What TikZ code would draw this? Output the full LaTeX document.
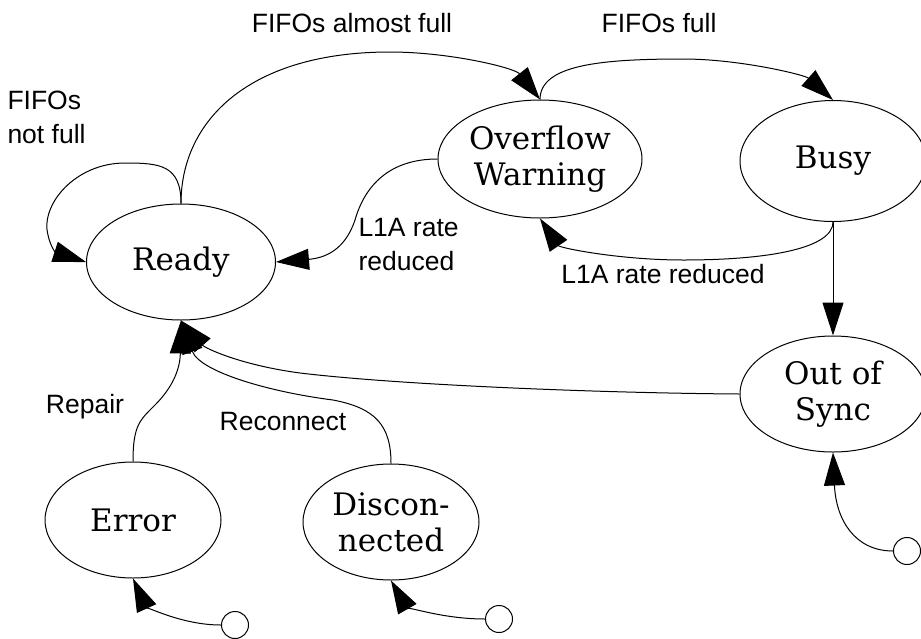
\documentclass[tikz,border=0pt]{standalone}
\usepackage{fontspec}
\usetikzlibrary{shapes.geometric, arrows.meta}
\newfontfamily\stfont{DejaVu Serif}
\newfontfamily\lblfont{Liberation Sans}

\begin{document}
\begin{tikzpicture}[x=1pt, y=-1pt, line width=1pt,
        state/.style={ellipse, draw, inner sep=0pt, minimum width=176pt, minimum height=116pt, align=center, font=\stfont\fontsize{31}{36}\selectfont},
        lbl/.style={inner sep=0pt, font=\lblfont\fontsize{26.5}{34}\selectfont},
        init/.style={circle, draw, inner sep=0pt, minimum size=27pt},
        arr/.style={-{Triangle[length=33pt, width=21pt]}}]
        \useasboundingbox (0,0) rectangle (921,638);

        \node[state, minimum width=189pt] (ready) at (181,262) {Ready};
        \node[state, minimum width=204pt, minimum height=118pt] (overflow) at (540,159) {Overflow\\Warning};
        \node[state, minimum width=186pt, minimum height=121pt] (busy) at (833,161) {Busy};
        \node[state, minimum width=186pt] (sync) at (833,394) {Out of\\Sync};
        \node[state] (error) at (133,520) {Error};
        \node[state] (disc) at (391,522) {Discon-\\nected};
        \node[init] (ierror) at (235,625) {};
        \node[init] (idisc) at (499,619) {};
        \node[init] (isync) at (907,551) {};

        % transitions
        \draw[arr] (ready.north) .. controls (181,165) and (160,163) .. (125,163) .. controls (75,163) and (40,205) .. (48,235) .. controls (50,245) and (55,252) .. (ready.west);
        \draw[arr] (ready.north) .. controls (181,120) and (250,52) .. (390,52) .. controls (450,52) and (515,68) .. (overflow.north);
        \draw[arr] (overflow.north) .. controls (540,65) and (600,59) .. (683,59) .. controls (740,59) and (805,75) .. (busy.north);
        \draw[arr] (overflow.west) .. controls (390,159) and (365,185) .. (355,220) .. controls (345,250) and (325,258) .. (ready.east);
        \draw[arr] (busy.south) .. controls (833,248) and (770,260) .. (683,260) .. controls (620,260) and (560,248) .. (overflow.south);
        \draw[arr] (busy) -- (sync);
        \draw[arr] (sync.west) .. controls (600,393) and (400,385) .. (300,373) .. controls (240,365) and (205,348) .. (ready.south);
        \draw[arr] (error.north) .. controls (133,425) and (140,420) .. (155,405) .. controls (172,388) and (180,370) .. (ready.south);
        \draw[arr] (disc.north) .. controls (391,425) and (375,408) .. (333,400) .. controls (270,392) and (200,372) .. (ready.south);

        % initial states
        \draw[arr] (ierror.west) .. controls (180,625) and (145,605) .. (error.south);
        \draw[arr] (idisc.west) .. controls (440,619) and (405,605) .. (disc.south);
        \draw[arr] (isync.west) .. controls (855,551) and (836,520) .. (sync.south);

        % labels
        \node[lbl, align=left, anchor=west] (notfull) at (7,117) {FIFOs\\not full};
        \node[lbl] (almostfull) at (352,23) {FIFOs almost full};
        \node[lbl] (full) at (659,23) {FIFOs full};
        \node[lbl, align=left, anchor=west] (reduced) at (358,245) {L1A rate\\reduced};
        \node[lbl] (reducedb) at (663,274) {L1A rate reduced};
        \node[lbl] (repair) at (85,407) {Repair};
        \node[lbl] (reconnect) at (283,422) {Reconnect};
\end{tikzpicture}
\end{document}
